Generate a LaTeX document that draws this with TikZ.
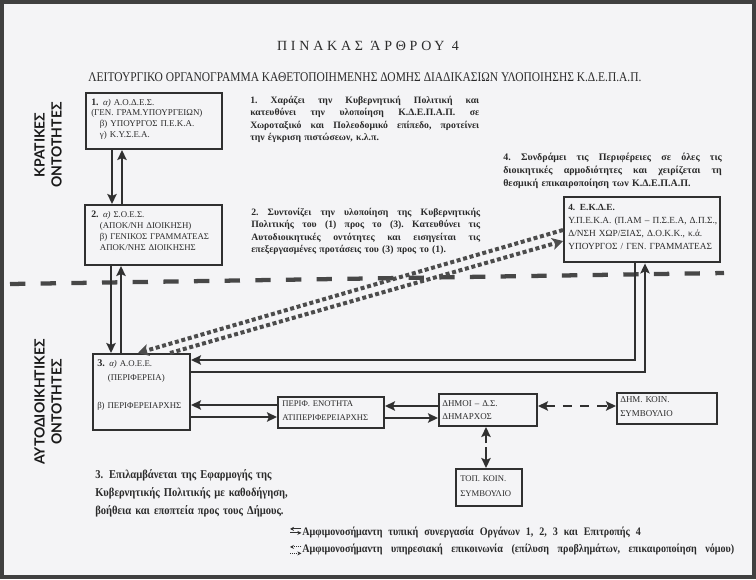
\documentclass[tikz,border=0pt]{standalone}
\usepackage{fontspec}
\setmainfont{Liberation Serif}
\newfontfamily\condserif[FakeStretch=0.88]{Liberation Serif}
\newfontfamily\subserif[FakeStretch=0.86]{Liberation Serif}
\newfontfamily\sidefont{Lato}
\usetikzlibrary{arrows.meta,calc}
\definecolor{ink}{HTML}{2B2B2B}
\definecolor{lineink}{HTML}{303030}
\definecolor{paper}{HTML}{F4F4F6}
\newcommand{\jl}[2]{{\frenchspacing\spaceskip=0pt\relax\xspaceskip=0pt\relax\makebox[#1][s]{#2}}}
\begin{document}
\begin{tikzpicture}[x=0.75pt,y=-0.75pt,
  boxs/.style={draw=lineink, line width=1.5pt, inner sep=0pt, anchor=north west},
  btxt/.style={anchor=base west, inner sep=0pt, align=left, text=ink,
    font=\fontsize{6.7}{8.1}\selectfont},
  btxtw/.style={btxt, font=\fontsize{6.7}{10.5}\selectfont},
  body/.style={anchor=base west, inner sep=0pt, align=left, text=ink,
    font=\bfseries\fontsize{7.3}{9.4}\selectfont},
  body4/.style={body, font=\bfseries\fontsize{7.5}{9.8}\selectfont},
  body3/.style={anchor=base west, inner sep=0pt, align=left, text=ink,
    font=\condserif\bfseries\fontsize{9}{13.5}\selectfont},
  legtxt/.style={anchor=base west, inner sep=0pt, text=ink,
    font=\condserif\bfseries\fontsize{8.6}{12}\selectfont},
  side/.style={rotate=90, align=center, text=black!90, inner sep=0pt,
    font=\sidefont\bfseries\fontsize{10.5}{12.75}\selectfont},
  arr/.style={draw=lineink, line width=1.7pt, -{Stealth[length=7.5pt,width=7pt,inset=1.5pt]}},
  darr/.style={draw=lineink, line width=2pt, dash pattern=on 7pt off 6pt,
    {Stealth[length=7.5pt,width=7pt,inset=1.5pt]}-{Stealth[length=7.5pt,width=7pt,inset=1.5pt]}},
  dotarr/.style={draw=black!70, line width=3pt, dash pattern=on 3pt off 2pt,
    -{Stealth[length=8pt,width=9pt,inset=2pt]}},
  divider/.style={draw=black!72, line width=3.2pt, dash pattern=on 11.5pt off 11.5pt},
  legarr/.style={draw=lineink, line width=0.8pt, -{Stealth[length=3pt,width=3pt]}},
  legdot/.style={draw=lineink, line width=0.8pt, dash pattern=on 0.8pt off 0.8pt, -{Stealth[length=3pt,width=3pt]}}
]
\useasboundingbox (0,0) rectangle (756,579);
\fill[paper] (0,0) rectangle (756,579);
\draw[draw=black!75, line width=2.6pt] (2,2) rectangle (754,577);

% titles
\node[anchor=base, inner sep=0pt, text=ink, font=\addfontfeature{LetterSpace=27}\fontsize{10.5}{12}\selectfont] (title) at (368,50) {ΠΙΝΑΚΑΣ ΆΡΘΡΟΥ 4};
\node[anchor=base, inner sep=0pt, text=ink, font=\subserif\fontsize{10}{12}\selectfont] (sub) at (365,81) {ΛΕΙΤΟΥΡΓΙΚΟ ΟΡΓΑΝΟΓΡΑΜΜΑ ΚΑΘΕΤΟΠΟΙΗΜΕΝΗΣ ΔΟΜΗΣ ΔΙΑΔΙΚΑΣΙΩΝ ΥΛΟΠΟΙΗΣΗΣ Κ.Δ.Ε.Π.Α.Π.};

% side labels
\node[side] (kr) at (48,145) {ΚΡΑΤΙΚΕΣ\\ΟΝΤΟΤΗΤΕΣ};
\node[side] (ay) at (48,402) {ΑΥΤΟΔΙΟΙΚΗΤΙΚΕΣ\\ΟΝΤΟΤΗΤΕΣ};

% divider
\coordinate (dl) at (10,284);
\coordinate (dr) at (724,273);
\draw[divider] (dl) -- (dr);

% boxes
\node[boxs, minimum width=102pt, minimum height=42pt] (b1) at (85,92) {};
\node[boxs, minimum width=102.75pt, minimum height=45pt] (b2) at (84,204) {};
\node[boxs, minimum width=72.75pt, minimum height=57pt] (b3) at (92,353) {};
\node[boxs, minimum width=79.5pt, minimum height=23.25pt] (b5) at (277,396) {};
\node[boxs, minimum width=73.5pt, minimum height=24pt] (b6) at (438,393) {};
\node[boxs, minimum width=75pt, minimum height=23.25pt] (b7) at (616,392) {};
\node[boxs, minimum width=49.5pt, minimum height=27.75pt] (b8) at (455,468) {};
\node[boxs, line width=1.8pt, minimum width=117pt, minimum height=48.75pt] (b4) at (563,196) {};

% box texts
\node[btxt, text width=96pt] (t1) at (91,105) {\textbf{\fontsize{7.4}{8}\selectfont 1.} \textit{α)} Α.Ο.Δ.Ε.Σ.\\(ΓΕΝ. ΓΡΑΜ.ΥΠΟΥΡΓΕΙΩΝ)\\\hspace*{6.5pt}β) ΥΠΟΥΡΓΟΣ Π.Ε.Κ.Α.\\\hspace*{6.5pt}γ) Κ.Υ.Σ.Ε.Α.};
\node[btxt, text width=96pt, font=\fontsize{6.6}{8.3}\selectfont] (t2) at (91,217) {\textbf{\fontsize{7.4}{8}\selectfont 2.} \textit{α)} Σ.Ο.Ε.Σ.\\\hspace*{6.5pt}(ΑΠΟΚ/ΝΗ ΔΙΟΙΚΗΣΗ)\\\hspace*{6.5pt}β) ΓΕΝΙΚΟΣ ΓΡΑΜΜΑΤΕΑΣ\\\hspace*{6.5pt}ΑΠΟΚ/ΝΗΣ ΔΙΟΙΚΗΣΗΣ};
\node[btxt, text width=68pt, font=\fontsize{6.6}{11.2}\selectfont] (t3) at (97,366) {\textbf{\fontsize{7.7}{8}\selectfont 3.} \textit{α)} Α.Ο.Ε.Ε.\\\hspace*{8pt}(ΠΕΡΙΦΕΡΕΙΑ)\\[9.5pt]β) ΠΕΡΙΦΕΡΕΙΑΡΧΗΣ};
\node[btxtw, text width=75pt, font=\fontsize{6.5}{10.5}\selectfont] (t5) at (282,406) {ΠΕΡΙΦ. ΕΝΟΤΗΤΑ\\ΑΤΙΠΕΡΙΦΕΡΕΙΑΡΧΗΣ};
\node[btxtw, text width=70pt, font=\fontsize{6.7}{9.8}\selectfont] (t6) at (442,406) {ΔΗΜΟΙ – Δ.Σ.\\ΔΗΜΑΡΧΟΣ};
\node[btxtw, text width=70pt] (t7) at (620,402) {ΔΗΜ. ΚΟΙΝ.\\ΣΥΜΒΟΥΛΙΟ};
\node[btxtw, text width=46pt, font=\fontsize{6.5}{11.5}\selectfont] (t8) at (460,481) {ΤΟΠ. ΚΟΙΝ.\\ΣΥΜΒΟΥΛΙΟ};
\node[btxt, text width=112pt, font=\fontsize{7}{9.8}\selectfont] (t4) at (568,210) {\textbf{4. Ε.Κ.Δ.Ε.}\\Υ.Π.Ε.Κ.Α. (Π.ΑΜ – Π.Σ.Ε.Α, Δ.Π.Σ.,\\Δ/ΝΣΗ ΧΩΡ/ΞΙΑΣ, Δ.Ο.Κ.Κ., κ.ά.\\ΥΠΟΥΡΓΟΣ / ΓΕΝ. ΓΡΑΜΜΑΤΕΑΣ};

% explanatory texts
\node[body, text width=172pt] (x1) at (250,103) {\jl{171.75pt}{1. Χαράζει την Κυβερνητική Πολιτική και}\\\jl{171.75pt}{κατευθύνει την υλοποίηση Κ.Δ.Ε.Π.Α.Π. σε}\\\jl{171.75pt}{Χωροταξικό και Πολεοδομικό επίπεδο, προτείνει}\\την έγκριση πιστώσεων, κ.λ.π.};
\node[body4, text width=165pt] (x4) at (503,160) {\jl{164pt}{4. Συνδράμει τις Περιφέρειες σε όλες τις}\\\jl{164pt}{διοικητικές αρμοδιότητες και χειρίζεται τη}\\θεσμική επικαιροποίηση των Κ.Δ.Ε.Π.Α.Π.};
\node[body, text width=172pt] (x2) at (251,215) {\jl{171.75pt}{2. Συντονίζει την υλοποίηση της Κυβερνητικής}\\\jl{171.75pt}{Πολιτικής του (1) προς το (3). Κατευθύνει τις}\\\jl{171.75pt}{Αυτοδιοικητικές οντότητες και εισηγείται τις}\\επεξεργασμένες προτάσεις του (3) προς το (1).};
\node[body3, text width=200pt] (x3) at (95,478) {3. Επιλαμβάνεται της Εφαρμογής της\\Κυβερνητικής Πολιτικής με καθοδήγηση,\\βοήθεια και εποπτεία προς τους Δήμους.};

% legend
\node[legtxt] (leg1) at (302,535) {\jl{254pt}{Αμφιμονοσήμαντη τυπική συνεργασία Οργάνων 1, 2, 3 και Επιτροπής 4}};
\node[legtxt] (leg2) at (302,552) {\jl{324pt}{Αμφιμονοσήμαντη υπηρεσιακή επικοινωνία (επίλυση προβλημάτων, επικαιροποίηση νόμου)}};
\draw[legarr] ([xshift=-0.5pt,yshift=4.6pt]leg1.base west) -- ([xshift=-9pt,yshift=4.6pt]leg1.base west);
\draw[legarr] ([xshift=-9pt,yshift=1.6pt]leg1.base west) -- ([xshift=-0.5pt,yshift=1.6pt]leg1.base west);
\draw[legdot] ([xshift=-0.5pt,yshift=3.8pt]leg2.base west) -- ([xshift=-9pt,yshift=3.8pt]leg2.base west);
\draw[legdot] ([xshift=-9pt,yshift=-1pt]leg2.base west) -- ([xshift=-0.5pt,yshift=-1pt]leg2.base west);

% helper coordinates
\coordinate (x112) at (112,0);
\coordinate (x122) at (122,0);
\coordinate (x111) at (111,0);
\coordinate (x121) at (121,0);
\coordinate (x138) at (138,0);
\coordinate (x170) at (170,0);
\coordinate (x635) at (635,0);
\coordinate (x645) at (645,0);
\coordinate (y405) at (0,405);
\coordinate (y417) at (0,417);
\coordinate (y406) at (0,406);
\coordinate (y418) at (0,418);
\coordinate (y360) at (0,360);
\coordinate (y372) at (0,372);
\coordinate (y230) at (0,230);
\coordinate (y241) at (0,241);
\coordinate (m1) at (486,443);
\coordinate (m2) at (486,447);

% connectors
\draw[arr] (b1.south -| x112) -- (b2.north -| x112);
\draw[arr] (b2.north -| x122) -- (b1.south -| x122);
\draw[arr] (b2.south -| x111) -- (b3.north -| x111);
\draw[arr] (b3.north -| x121) -- (b2.south -| x121);
\draw[arr] (b5.west |- y405) -- (b3.east |- y405);
\draw[arr] (b3.east |- y417) -- (b5.west |- y417);
\draw[arr] (b6.west |- y406) -- (b5.east |- y406);
\draw[arr] (b5.east |- y418) -- (b6.west |- y418);
\draw[darr] (b6.east |- y406) -- (b7.west |- y406);
\draw[arr] (m1) -- (b6.south -| m1);
\draw[arr] (m2) -- (b8.north -| m2);
\draw[arr] (b4.south -| x635) |- (b3.east |- y360);
\draw[arr] (b3.east |- y372) -| (b4.south -| x645);
\draw[dotarr] (b4.west |- y230) -- (b3.north -| x138);
\draw[dotarr] (b3.north -| x170) -- (b4.west |- y241);
\end{tikzpicture}
\end{document}
